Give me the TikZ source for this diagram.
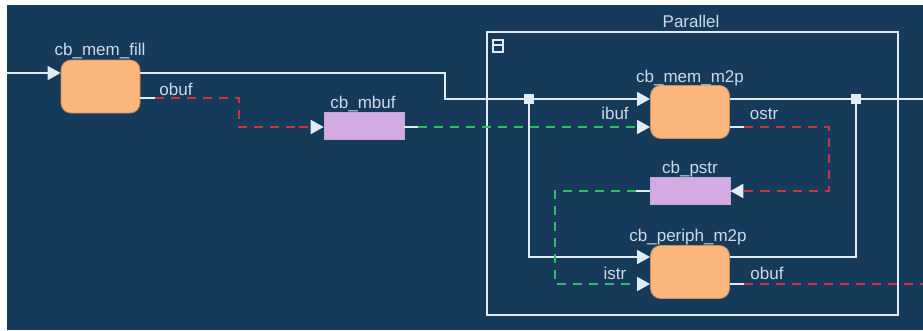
\documentclass[tikz,border=0pt]{standalone}
\usepackage{fontspec}
\setmainfont{Liberation Sans}
\usetikzlibrary{arrows.meta,calc}
\definecolor{bgblue}{RGB}{22,58,90}
\definecolor{wirecol}{RGB}{226,236,244}
\definecolor{procfill}{RGB}{250,182,124}
\definecolor{procedge}{RGB}{200,140,95}
\definecolor{buffill}{RGB}{212,170,228}
\definecolor{bufedge}{RGB}{190,170,210}
\definecolor{redwire}{RGB}{196,52,68}
\definecolor{greenwire}{RGB}{44,190,96}
\definecolor{labtxt}{RGB}{204,218,232}

\begin{document}
\begin{tikzpicture}[x=1pt,y=-1pt,
    >={Triangle[length=13pt,width=14pt,color=wirecol]},
    proc/.style={rectangle,rounded corners=10pt,fill=procfill,draw=procedge,line width=0.8pt,
        minimum width=79pt,minimum height=53pt,inner sep=0pt},
    buf/.style={rectangle,fill=buffill,draw=bufedge,line width=0.6pt,
        minimum width=80pt,minimum height=27pt,inner sep=0pt},
    lab/.style={text=labtxt,font=\fontsize{17}{20}\selectfont,inner sep=0pt,anchor=base},
    wire/.style={draw=wirecol,line width=1.8pt},
    reddash/.style={draw=redwire,line width=1.8pt,dash pattern=on 9pt off 7pt},
    greendash/.style={draw=greenwire,line width=1.8pt,dash pattern=on 9pt off 7pt}]
    \useasboundingbox (0,0) rectangle (923,330);
    \fill[white] (0,0) rectangle (923,330);
    \fill[bgblue] (7,5) rectangle (923,330);

    % Parallel frame
    \draw[wirecol,line width=1.6pt] (487,32) rectangle (898,315);
    \node[lab] (partitle) at (691,27) {Parallel};
    \draw[wirecol,line width=1.4pt] (493,40) rectangle (503,52);
    \draw[wirecol,line width=1.4pt] (493,45) -- (503,45);

    % blocks
    \node[proc] (memfill) at (100.5,86.5) {};
    \node[buf] (mbuf) at (364,125.5) {};
    \node[proc] (memm2p) at (690,112) {};
    \node[buf] (pstr) at (690,190.5) {};
    \node[proc] (periph) at (690,272) {};

    \node[lab] (memfilllab) at (100,55) {cb\_mem\_fill};
    \node[lab] (mbuflab) at (363,108) {cb\_mbuf};
    \node[lab] (memm2plab) at (690,82) {cb\_mem\_m2p};
    \node[lab] (pstrlab) at (690,173) {cb\_pstr};
    \node[lab] (periphlab) at (688,241) {cb\_periph\_m2p};
    \node[lab] (obufa) at (176,95) {obuf};
    \node[lab] (ibuf) at (615,119) {ibuf};
    \node[lab] (ostr) at (764,119) {ostr};
    \node[lab] (istr) at (615,279) {istr};
    \node[lab] (obufb) at (767,279) {obuf};

    % rows and bends
    \coordinate (infeed) at (7,73);
    \coordinate (bendA) at (445,73);
    \coordinate (joinA) at (529,99);
    \coordinate (joinB) at (856,99);
    \coordinate (outtop) at (923,99);
    \coordinate (outbot) at (923,284);

    % control wires
    \draw[wire,->] (infeed) -- (memfill.west |- infeed);
    \draw[wire] (memfill.east |- infeed) -- (bendA) -- (bendA |- joinA) -- (joinA);
    \draw[wire,->] (joinA) -- (memm2p.west |- joinA);
    \draw[wire] (memm2p.east |- joinB) -- (outtop);
    \draw[wire,->] (joinA) -- (joinA |- 0,257) -- (periph.west |- 0,257);
    \draw[wire] (periph.east |- 0,257) -- (joinB |- 0,257) -- (joinB);
    \foreach \j in {joinA,joinB}{
        \fill[wirecol] ($(\j)+(-5,-5)$) rectangle ($(\j)+(5,5)$);
    }

    % data wires
    \draw[wire] (memfill.east |- 0,98) -- ++(15,0) coordinate (sa);
    \draw[reddash] (sa) -- (239,98) -- (239,127) -- ++(60,0) coordinate (sb);
    \draw[reddash,->] (sb) -- (mbuf.west |- 0,127);

    \draw[wire] (mbuf.east |- 0,127) -- ++(14,0) coordinate (sc);
    \draw[greendash,->] (sc) -- (memm2p.west |- 0,127);

    \draw[wire] (memm2p.east |- 0,127) -- ++(14,0) coordinate (sd);
    \draw[reddash] (sd) -- (829,127) -- (829,191) -- ++(-60,0) coordinate (se);
    \draw[reddash,->] (se) -- (pstr.east |- 0,191);

    \draw[wire] (pstr.west |- 0,191) -- ++(-14,0) coordinate (sf);
    \draw[greendash] (sf) -- (555,191) -- (555,284) -- ++(50,0) coordinate (sg);
    \draw[greendash,->] (sg) -- (periph.west |- 0,284);

    \draw[wire] (periph.east |- 0,284) -- ++(14,0) coordinate (sh);
    \draw[reddash] (sh) -- (outbot);
\end{tikzpicture}
\end{document}
